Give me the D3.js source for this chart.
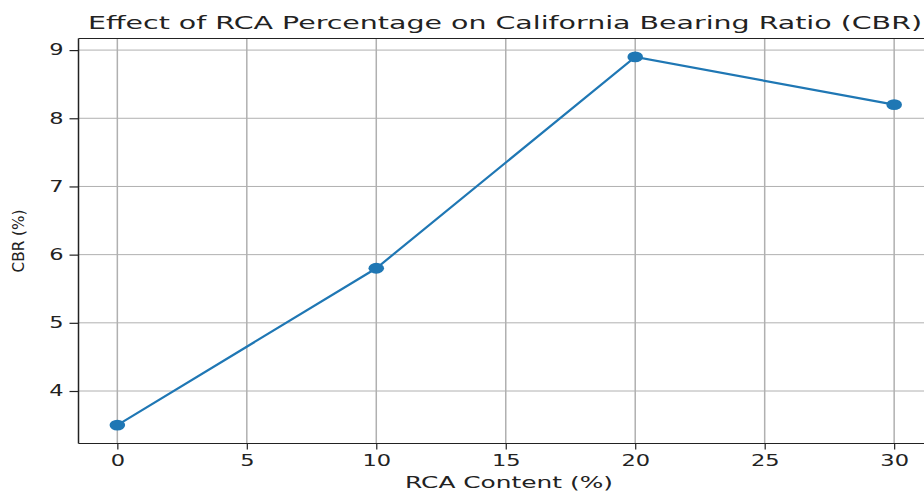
<!DOCTYPE html>
<html>
<head>
<meta charset="utf-8">
<script src="https://cdn.jsdelivr.net/npm/d3@7"></script>
<style>
  body { margin: 0; background: #fff; }
  text { font-family: "DejaVu Sans", sans-serif; fill: #222; }
</style>
</head>
<body>
<div id="my_chart"></div>
<script>
// data
var rcaContent = [0, 10, 20, 30];
var cbrValues = [3.5, 5.8, 8.9, 8.2];
var xTicks = [0, 5, 10, 15, 20, 25, 30];
var yTicks = [4, 5, 6, 7, 8, 9];

var width = 924, height = 491;
// plot box (right edge runs past the window, as in the picture)
var box = {left: 78.5, right: 933, top: 38.5, bottom: 443.5};

var svg = d3.select("#my_chart")
.append("svg")
  .attr("width", width)
  .attr("height", height);

var x = d3.scaleLinear()
  .domain([-1.5, 31.5])
  .range([box.left, box.right]);

var y = d3.scaleLinear()
  .domain([3.23, 9.17])
  .range([box.bottom, box.top]);

// stretch text sideways, the picture is wider than tall
function stretch(sel, k) {
  sel.each(function() {
    var len = this.getComputedTextLength();
    d3.select(this).attr("textLength", len * k).attr("lengthAdjust", "spacingAndGlyphs");
  });
}

// grid
svg.append("g").selectAll("line")
  .data(xTicks).enter().append("line")
  .attr("x1", function(d) { return x(d) }).attr("x2", function(d) { return x(d) })
  .attr("y1", box.top).attr("y2", box.bottom)
  .style("stroke", "#b0b0b0").style("stroke-width", 1.5);

svg.append("g").selectAll("line")
  .data(yTicks).enter().append("line")
  .attr("x1", box.left).attr("x2", box.right)
  .attr("y1", function(d) { return y(d) }).attr("y2", function(d) { return y(d) })
  .style("stroke", "#b0b0b0").style("stroke-width", 1);

// axes
var xAxis = svg.append("g")
  .attr("transform", "translate(0," + box.bottom + ")")
  .call(d3.axisBottom(x).tickValues(xTicks).tickFormat(d3.format("d")).tickSize(6).tickPadding(6).tickSizeOuter(0));
var yAxis = svg.append("g")
  .attr("transform", "translate(" + box.left + ",0)")
  .call(d3.axisLeft(y).tickValues(yTicks).tickFormat(d3.format("d")).tickSize(9).tickPadding(6).tickSizeOuter(0));

[xAxis, yAxis].forEach(function(a) {
  a.select(".domain").remove();
  a.selectAll(".tick line").style("stroke", "#222").style("stroke-width", 1.2);
  a.selectAll(".tick text")
    .style("font-size", "15px")
    .style("font-family", "DejaVu Sans")
    .style("fill", "#222");
});
xAxis.selectAll(".tick text").attr("y", 12);
stretch(xAxis.selectAll(".tick text"), 1.5);
stretch(yAxis.selectAll(".tick text"), 1.5);

// spines
svg.append("line").attr("x1", box.left).attr("x2", box.left).attr("y1", box.top).attr("y2", box.bottom)
  .style("stroke", "#222").style("stroke-width", 1.5);
svg.append("line").attr("x1", box.left).attr("x2", box.right).attr("y1", box.bottom).attr("y2", box.bottom)
  .style("stroke", "#222").style("stroke-width", 1.2);
svg.append("line").attr("x1", box.left).attr("x2", box.right).attr("y1", box.top).attr("y2", box.top)
  .style("stroke", "#222").style("stroke-width", 1.2);
svg.append("line").attr("x1", box.right).attr("x2", box.right).attr("y1", box.top).attr("y2", box.bottom)
  .style("stroke", "#222").style("stroke-width", 1.5);

// line + markers
var pts = rcaContent.map(function(d, i) { return [d, cbrValues[i]] });
svg.append("path")
  .datum(pts)
  .attr("d", d3.line().x(function(d) { return x(d[0]) }).y(function(d) { return y(d[1]) }))
  .style("fill", "none")
  .style("stroke", "#1f77b4")
  .style("stroke-width", 2.2);

svg.append("g").selectAll("ellipse")
  .data(pts).enter().append("ellipse")
  .attr("cx", function(d) { return x(d[0]) })
  .attr("cy", function(d) { return y(d[1]) })
  .attr("rx", 7.8).attr("ry", 5.4)
  .style("fill", "#1f77b4");

// labels
svg.append("text")
  .attr("x", 505).attr("y", 28.5)
  .attr("text-anchor", "middle")
  .style("font-size", "18px")
  .attr("textLength", 834).attr("lengthAdjust", "spacingAndGlyphs")
  .text("Effect of RCA Percentage on California Bearing Ratio (CBR)");

svg.append("text")
  .attr("x", 509).attr("y", 488)
  .attr("text-anchor", "middle")
  .style("font-size", "15.5px")
  .attr("textLength", 208).attr("lengthAdjust", "spacingAndGlyphs")
  .text("RCA Content (%)");

svg.append("text")
  .attr("transform", "translate(24,241) rotate(-90)")
  .attr("text-anchor", "middle")
  .style("font-size", "15px")
  .attr("textLength", 63).attr("lengthAdjust", "spacingAndGlyphs")
  .text("CBR (%)");
</script>
</body>
</html>
